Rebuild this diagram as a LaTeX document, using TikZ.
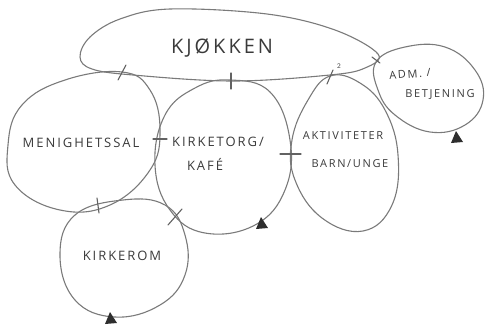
\documentclass[tikz,border=0pt]{standalone}
\usepackage{fontspec}
\newfontfamily\hand{Open Sans}[LetterSpace=15]
\usetikzlibrary{positioning}
\definecolor{pencil}{HTML}{7A7A7A}
\definecolor{ink}{HTML}{3A3A3A}
\definecolor{mark}{HTML}{2E2E2E}
\tikzset{
  bubble/.style={draw=pencil, line width=1.1pt, line join=round},
  door/.style={draw=pencil!80!black, line width=1.1pt, line cap=round},
  entry/.style={fill=mark},
  room/.style={font=\hand\fontsize{13}{16}\selectfont, text=ink, inner sep=0pt, align=center},
  roomsm/.style={room, font=\hand\fontsize{11}{14}\selectfont},
}
\begin{document}
\begin{tikzpicture}[x=1pt,y=-1pt]
  \useasboundingbox (0,0) rectangle (485,325);
  % bubbles
  \draw[bubble] plot[smooth cycle, tension=0.6] coordinates {(80,57) (90,37) (120,19) (170,9) (267,14) (335,30) (378,54) (365,68) (330,75) (233,81) (133,75) (92,69)};
  \draw[bubble] plot[smooth cycle, tension=0.7] coordinates {(8,145) (22,105) (65,80) (122,72) (150,90) (160,130) (150,170) (110,205) (60,210) (15,185)};
  \draw[bubble] plot[smooth cycle, tension=0.7] coordinates {(230,80) (270,92) (290,140) (285,190) (255,225) (205,233) (170,210) (155,165) (165,115) (195,88)};
  \draw[bubble] plot[smooth cycle, tension=0.7] coordinates {(330,76) (360,83) (385,110) (398,155) (392,205) (363,231) (322,218) (295,180) (292,140) (308,100)};
  \draw[bubble] plot[smooth cycle, tension=0.7] coordinates {(376,62) (405,47) (445,47) (475,70) (483,100) (465,125) (430,132) (395,115) (378,90)};
  \draw[bubble] plot[smooth cycle, tension=0.7] coordinates {(123,200) (165,205) (185,235) (185,275) (160,305) (115,317) (75,300) (60,255) (75,215)};
  % room names
  \node[room, font=\hand\fontsize{20}{24}\selectfont] (kjokken) at (222,48) {KJØKKEN};
  \node[room] (menighet) at (81,143) {MENIGHETSSAL};
  \node[room] (torg) at (218,142) {KIRKETORG/};
  \node[room] (kafe) at (205,164) {KAFÉ};
  \node[roomsm] (aktiv) at (343,136) {AKTIVITETER};
  \node[roomsm] (barn) at (350,164) {BARN/UNGE};
  \node[roomsm, rotate=4] (adm) at (410,74) {ADM. /};
  \node[roomsm] (betj) at (440,95) {BETJENING};
  \node[room] (kirkerom) at (122,256) {KIRKEROM};
  \node[font=\sffamily\fontsize{7}{8}\selectfont, text=ink, inner sep=0pt] (two) at (339,66) {2};
  % doors
  \foreach \xa/\ya/\xb/\yb in {118/80/126/65, 231/73/231/89, 327/84/333/70, 372/57/380/63,
                               153/139/167/139, 280/154/301/154, 97/198/99/213, 168/225/182/209}
    \draw[door] (\xa,\ya) -- (\xb,\yb);
  % entrances
  \foreach \ex/\ey in {261/224, 456/138, 110/319}
    \fill[entry] (\ex,\ey) ++(0,-7) -- ++(-5,12) -- ++(12,-1) -- cycle;
\end{tikzpicture}
\end{document}
